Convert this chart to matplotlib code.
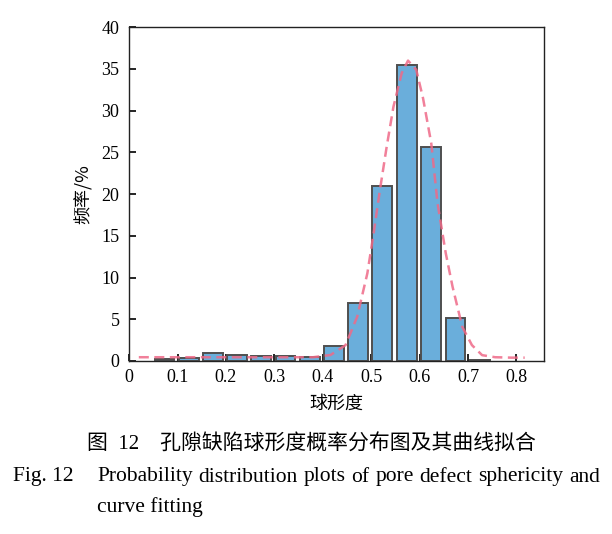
import numpy as np
import matplotlib.pyplot as plt

# histogram bins (bin centres) and frequency in %
sphericity = [0.073, 0.123, 0.173, 0.223, 0.273, 0.323, 0.373,
              0.423, 0.473, 0.523, 0.574, 0.624, 0.674, 0.724]
freq = [0.2, 0.35, 0.9, 0.75, 0.65, 0.6, 0.45,
        1.8, 7.0, 21.0, 35.5, 25.7, 5.2, 0.1]

# fitted curve
fit_x = [0.02, 0.10, 0.20, 0.30, 0.38, 0.416, 0.447, 0.471, 0.492, 0.505,
         0.518, 0.532, 0.546, 0.563, 0.576, 0.593, 0.607, 0.624, 0.637,
         0.654, 0.668, 0.688, 0.708, 0.729, 0.756, 0.79, 0.817]
fit_y = [0.45, 0.45, 0.45, 0.45, 0.45, 0.72, 1.9, 5.3, 10.5, 15.3,
         20.5, 25.7, 30.5, 34.5, 36.0, 34.9, 31.5, 26.1, 18.9,
         12.9, 8.9, 4.1, 1.9, 0.7, 0.45, 0.4, 0.4]

xticks = [0, 0.1, 0.2, 0.3, 0.4, 0.5, 0.6, 0.7, 0.8]
xtick_labels = ['0', '0.1', '0.2', '0.3', '0.4', '0.5', '0.6', '0.7', '0.8']
yticks = [0, 5, 10, 15, 20, 25, 30, 35, 40]

cap_cn = '图  12    孔隙缺陷球形度概率分布图及其曲线拟合'
cap_en1 = 'Probability distribution plots of pore defect sphericity and'
cap_en2 = 'curve fitting'

serif = ['Liberation Serif', 'DejaVu Serif']
cjk = ['Noto Sans CJK SC', 'DejaVu Sans']
cap = ['Liberation Serif', 'Noto Sans CJK SC']

W, H = 612, 534
fig = plt.figure(figsize=(W / 100, H / 100), dpi=100)
ax = fig.add_axes([0.211, 0.324, 0.678, 0.625])

ax.bar(sphericity, freq, width=0.041, color='#6aaedb',
       edgecolor='#4f4f4f', linewidth=1.4, zorder=2)
ax.plot(fit_x, fit_y, color='#ef6a88', linewidth=1.8, alpha=0.85,
        dashes=(4, 2.2), zorder=3)

ax.set_xlim(0, 0.857)
ax.set_ylim(0, 40)
ax.set_xticks(xticks)
ax.set_xticklabels(xtick_labels)
ax.set_yticks(yticks)
ax.tick_params(direction='in', length=5, width=1.2, top=False, right=False,
               labelsize=13)
ax.tick_params(axis='y', pad=7)
ax.tick_params(axis='x', pad=6)
for lab in ax.get_xticklabels() + ax.get_yticklabels():
    lab.set_family(serif)
for sp in ax.spines.values():
    sp.set_linewidth(1.0)
    sp.set_color('#222222')

ax.set_xlabel('球形度', family=cjk, fontsize=13, labelpad=6)
ax.set_ylabel('频率/%', family=cjk, fontsize=13, labelpad=6)

fig.text(311 / W, 1 - 445 / H, cap_cn, family=cap, fontsize=15,
         ha='center', va='center')
fig.text(13 / W, 1 - 477 / H, 'Fig. 12', family=serif, fontsize=15.5,
         ha='left', va='center')

# justify the English caption line between x0 and x1 (pixels)
words = cap_en1.split()
x0, x1 = 97, 600
r = fig.canvas.get_renderer()
items = []
for w in words:
    t = fig.text(0, 1 - 477 / H, w, family=serif, fontsize=15.5,
                 ha='left', va='center')
    items.append((t, t.get_window_extent(r).width))
gap = (x1 - x0 - sum(wd for _, wd in items)) / (len(items) - 1)
x = x0
for t, wd in items:
    t.set_x(x / W)
    x += wd + gap

fig.text(x0 / W, 1 - 507 / H, cap_en2, family=serif, fontsize=15.5,
         ha='left', va='center')

fig.savefig('out.png', dpi=100)
